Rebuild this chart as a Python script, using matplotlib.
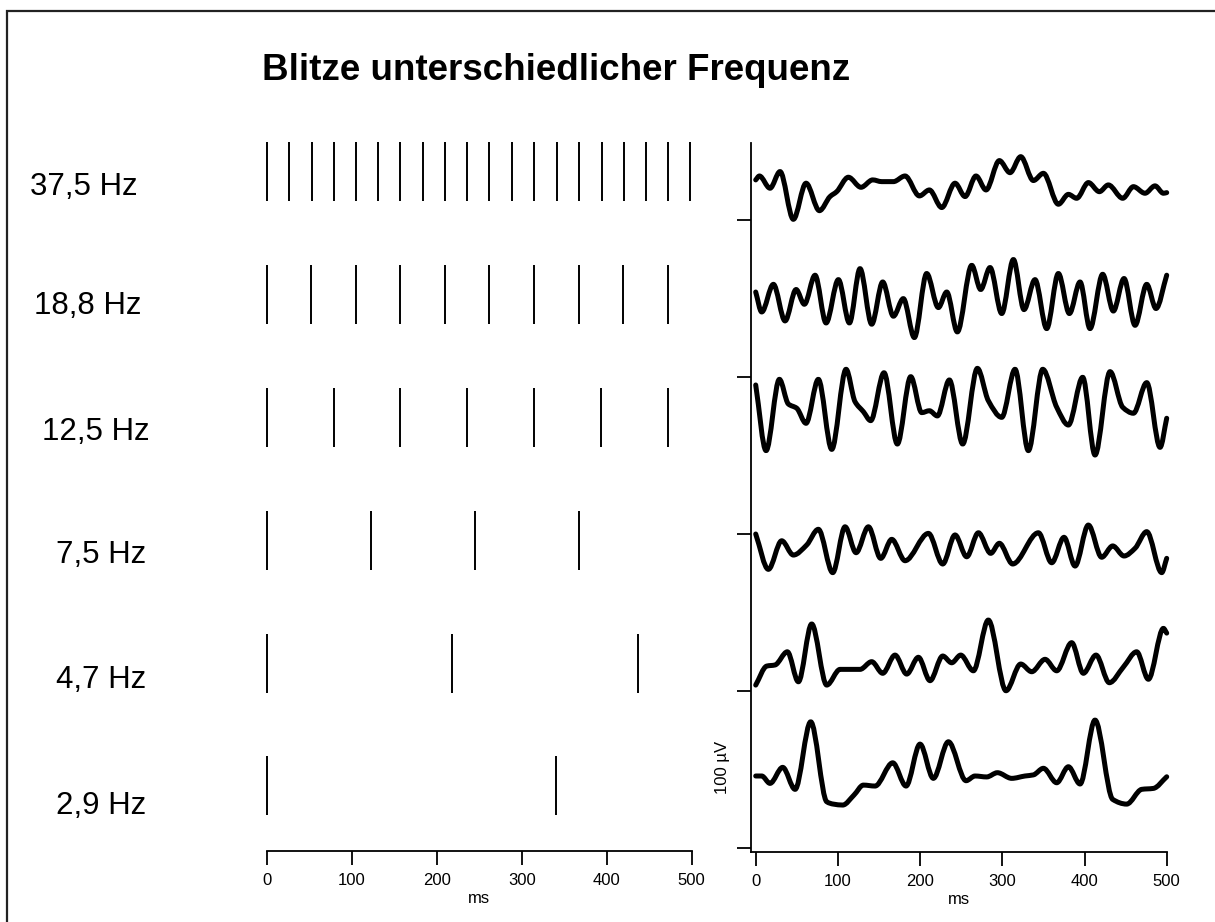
import numpy as np
import matplotlib
matplotlib.use("Agg")
from matplotlib import pyplot as plt
from matplotlib.patches import Rectangle, PathPatch
from matplotlib.path import Path

plt.rcParams['font.family'] = ['Liberation Sans', 'DejaVu Sans']

title = "Blitze unterschiedlicher Frequenz"

# labels of the flash rows, top to bottom
freq_labels = ["37,5 Hz", "18,8 Hz", "12,5 Hz", "7,5 Hz", "4,7 Hz", "2,9 Hz"]

# flash onsets in ms
flash_375 = [0, 26, 53, 79, 105, 131, 157, 184, 210, 236, 262, 289, 315, 341,
             367, 394, 420, 446, 472, 498]
flash_188 = [0, 52.5, 105, 157, 210, 262, 315, 367, 419, 472]
flash_125 = [0, 78.6, 157, 236, 314.5, 393, 472]
flash_75 = [0, 122.4, 244.7, 367]
flash_47 = [0, 218.4, 436.5]
flash_29 = [0, 340.8]
flashes = [flash_375, flash_188, flash_125, flash_75, flash_47, flash_29]

# EEG responses: time in ms, amplitude in uV above the trace baseline
t_375 = [0, 4.5, 17.4, 29.6, 45.8, 61.2, 77.5, 90.4, 98.5, 112.7, 128.1, 142.3,
         153.3, 167.5, 181.7, 199.1, 211.3, 226.3, 242.5, 254.7, 268, 280.2,
         296.4, 309.4, 322.4, 337.8, 350, 368.2, 380.4, 390.5, 404.7, 418.1,
         429, 446.5, 459.5, 473.6, 485.8, 496, 500]
v_375 = [25.5, 28, 20.2, 30.8, 0.4, 23.4, 5.9, 14.9, 18, 27.2, 20.8, 25.5,
         24.4, 24.4, 28, 15.3, 19.1, 7.9, 23.4, 14.9, 28, 19.1,
         37.8, 30.1, 40.3, 25.1, 29.7, 10, 16.3, 13.8, 23.8, 18,
         22.3, 13.8, 21.2, 17, 21.7, 17, 17.4]

t_188 = [0, 7.3, 21.5, 35.7, 49.1, 59.2, 72.2, 85.6, 100.6, 114, 126.9, 141.1,
         154.5, 167.5, 179.6, 193, 208, 222.2, 232.4, 245.3, 262.8, 273.7,
         285.1, 299.3, 313.5, 326.4, 339.8, 354, 368.2, 381.6, 394.6, 406.7,
         422.1, 435.1, 448.1, 461.5, 475.7, 487, 500]
v_188 = [54.1, 41.4, 59, 35.7, 55.7, 46.3, 64.8, 34.4, 62, 34.4, 69, 33.6,
         60.5, 38.7, 49.9, 25.1, 65.9, 44.2, 54.1, 28.7, 71.1, 55.7,
         69.7, 40.4, 74.8, 42.9, 62, 30.8, 65.9, 40.4, 60.5, 30.8,
         65.4, 42, 62.7, 32.9, 59, 43.6, 64.8]

t_125 = [0, 12.6, 28.8, 39.7, 49.9, 61.2, 76.2, 92.5, 109.9, 120.8, 131, 139.9,
         156.1, 172.3, 188.6, 202, 211.3, 221, 235.6, 251.8, 269.7, 283, 299.3,
         315.5, 331.7, 349.2, 366.2, 380.4, 397.8, 412.8, 431.1, 446.5, 459.5,
         475.7, 491.9, 500]
v_125 = [94.9, 53.1, 98.5, 82.8, 80.1, 70.5, 98.5, 53.9, 104.9, 84.3, 77.9, 72.2,
         102.7, 57.3, 100.2, 77.3, 78.5, 75.2, 98.1, 57.3, 105.5, 84.9, 74.3,
         104.9, 53.1, 104.9, 80.7, 69.4, 99.8, 50.3, 103.4, 80.7, 76.9,
         96.4, 55.2, 73.7]

t_75 = [0, 15.4, 31.6, 45.8, 62, 76.2, 93.7, 108.7, 122.1, 137.1, 152.1, 165.5,
        181.7, 210.1, 227.5, 242.5, 256.7, 270.9, 285.9, 296.4, 312.6, 343.9,
        360.1, 375.1, 388.5, 404.7, 420.9, 434.3, 448.1, 461.5, 475.7, 493.9, 500]
v_75 = [100, 77.5, 95.7, 86.6, 93, 103, 75.4, 104.6, 88.1, 104.6, 84.5, 96.6,
        83, 100.4, 80.9, 99.4, 85.5, 100.8, 87.7, 94.1, 80.9, 100.8,
        81.7, 97.9, 79.6, 105.7, 85.2, 92.4, 86, 90.9, 101.5, 75.4, 84.5]

t_47 = [0, 13.4, 23.5, 38.5, 51.9, 68.1, 86.4, 102.6, 126.9, 141.1, 154.5, 169.5,
        183.7, 197.9, 212.1, 227.5, 238.4, 249.4, 264.8, 283, 304.5, 322.4,
        335.8, 352, 366.2, 384.4, 398.6, 414, 430.2, 447.3, 463.5, 477.7, 496, 500]
v_47 = [3.8, 15.9, 16.6, 25, 5.9, 42.7, 3.8, 13.8, 13.8, 18.7, 11.3, 22.9,
        10.8, 21.5, 6.6, 22.3, 18, 22.9, 12.9, 45.2, 0.2, 17.2,
        12.3, 20.2, 12.9, 30.8, 11.3, 22.9, 5.3, 15.3, 25, 7.5, 39.9, 36.9]

t_29 = [0, 7.3, 17.4, 32.8, 47.9, 66.9, 86.4, 94.5, 105.8, 119.6, 131, 145.2,
        166.7, 182.9, 199.9, 216.1, 234.4, 255.9, 266.8, 281, 294, 311.4, 327.6,
        337.8, 350, 366.2, 380.4, 394.6, 412.8, 434.3, 451.3, 469.6, 483.8, 500]
v_29 = [45.9, 45.9, 41.2, 51.4, 37.4, 80.4, 29.5, 28, 27.4, 33.8, 40.1, 39.5,
        54.3, 39.5, 66.2, 44.4, 67.7, 42.9, 45.9, 45.3, 48, 44.4, 45.9,
        46.6, 50.8, 41.6, 51.8, 40.8, 81.5, 31, 28, 37.4, 38, 45.4]

times = [t_375, t_188, t_125, t_75, t_47, t_29]
values = [v_375, v_188, v_125, v_75, v_47, v_29]
baselines = [400, 300, 200, 100, 100, 0]


def smooth_path(x, y):
    # bezier path through the read points (monotone cubic, flat at peaks)
    x = np.asarray(x, float)
    y = np.asarray(y, float)
    d = np.diff(y) / np.diff(x)
    m = np.zeros_like(y)
    for i in range(1, len(y) - 1):
        if d[i - 1] * d[i] > 0:
            m[i] = 2 * d[i - 1] * d[i] / (d[i - 1] + d[i])
    m[0] = d[0]
    m[-1] = d[-1]
    verts = [(x[0], y[0])]
    codes = [Path.MOVETO]
    for i in range(len(x) - 1):
        h = x[i + 1] - x[i]
        verts += [(x[i] + h / 3, y[i] + m[i] * h / 3),
                  (x[i + 1] - h / 3, y[i + 1] - m[i + 1] * h / 3),
                  (x[i + 1], y[i + 1])]
        codes += [Path.CURVE4] * 3
    return Path(verts, codes)


W, H = 1215, 922
fx = lambda px: px / W
fy = lambda py: 1 - py / H

fig = plt.figure(figsize=(W / 100, H / 100), dpi=100)

# frame around the figure (only top and left edges are inside the picture)
fig.patches.append(Rectangle((fx(7), -0.5), 2, fy(11) + 0.5, transform=fig.transFigure,
                             fill=False, lw=1.6, ec='#222222'))

fig.text(fx(556), fy(70), title, ha='center', va='center', fontsize=26.5, fontweight='bold')

# left panel: flash trains
ax1 = fig.add_axes([fx(266.7), fy(851), fx(691.7) - fx(266.7), fy(140) - fy(851)])
ax1.set_xlim(0, 500)
ax1.set_ylim(5.53, -0.26)
for i, fl in enumerate(flashes):
    ax1.vlines(fl, i - 0.24, i + 0.24, color='black', lw=1.4, clip_on=False)

label_x = [30, 34, 42, 56, 56, 56]
label_y = [187, 306, 432, 555, 680, 806]
for i, lab in enumerate(freq_labels):
    fig.text(fx(label_x[i]), fy(label_y[i]), lab,
             ha='left', va='center', fontsize=22.5)

for s in ['left', 'top', 'right']:
    ax1.spines[s].set_visible(False)
ax1.spines['bottom'].set_linewidth(1.3)
ax1.set_xticks([0, 100, 200, 300, 400, 500])
ax1.tick_params(axis='x', length=10, width=1.3, labelsize=12, pad=6)
ax1.tick_params(axis='y', left=False, labelleft=False)
ax1.set_xlabel("ms", fontsize=12, labelpad=2)

# right panel: EEG responses
ax2 = fig.add_axes([fx(750.7), fy(852), fx(1166.7) - fx(750.7), fy(143) - fy(852)])
ax2.set_xlim(-6.1, 500)
ax2.set_ylim(-2.5, 449)
for t, v, b in zip(times, values, baselines):
    ax2.add_patch(PathPatch(smooth_path(t, np.array(v) + b), fill=False, ec='black',
                            lw=3.6, capstyle='round', joinstyle='round', clip_on=False))

ax2.spines['top'].set_visible(False)
ax2.spines['right'].set_visible(False)
ax2.spines['left'].set_linewidth(1.3)
ax2.spines['bottom'].set_linewidth(1.3)
ax2.set_xticks([0, 100, 200, 300, 400, 500])
ax2.set_yticks([0, 100, 200, 300, 400])
ax2.set_yticklabels([])
ax2.tick_params(axis='x', length=10, width=1.3, labelsize=12, pad=6)
ax2.tick_params(axis='y', length=10, width=1.3)
ax2.set_xlabel("ms", fontsize=12, labelpad=2)

fig.text(fx(723), fy(767), "100 \u00b5V", rotation=90, ha='center', va='center', fontsize=12)

fig.savefig("out.png", dpi=100)
